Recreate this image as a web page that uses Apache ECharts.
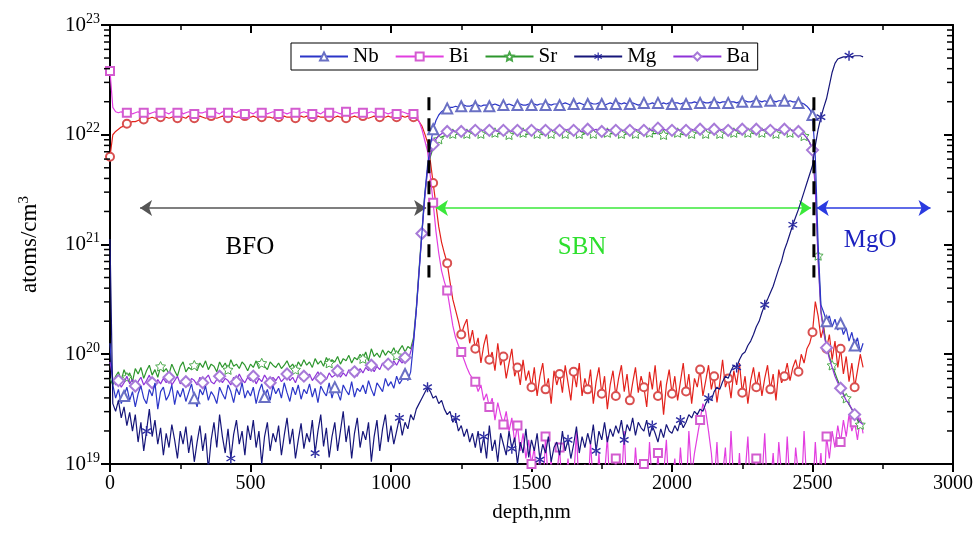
<!DOCTYPE html>
<html>
<head>
<meta charset="utf-8">
<script src="https://cdn.jsdelivr.net/npm/echarts@6/dist/echarts.min.js"></script>
<style>
  html, body { margin: 0; padding: 0; background: #ffffff; }
  #chart { width: 979px; height: 536px; }
</style>
</head>
<body>
<div id="chart"></div>
<script>
// SIMS depth profile: concentration (atoms/cm3) vs depth (nm).
// Profiles are sampled every 10 nm starting at 0 nm; values are log10(atoms/cm3).
const DEPTH_START = 0;
const DEPTH_STEP = 10;

const nbLog = [
  20.10, 19.72, 19.60, 19.68, 19.55, 19.62, 19.70, 19.58, 19.66, 19.52,
  19.64, 19.71, 19.60, 19.55, 19.68, 19.62, 19.74, 19.50, 19.66, 19.70,
  19.58, 19.63, 19.72, 19.54, 19.67, 19.61, 19.69, 19.57, 19.65, 19.73,
  19.60, 19.52, 19.68, 19.63, 19.71, 19.58, 19.66, 19.62, 19.55, 19.70,
  19.64, 19.59, 19.72, 19.66, 19.56, 19.69, 19.63, 19.74, 19.60, 19.67,
  19.62, 19.70, 19.55, 19.66, 19.73, 19.61, 19.68, 19.58, 19.71, 19.64,
  19.69, 19.60, 19.74, 19.65, 19.57, 19.70, 19.63, 19.72, 19.59, 19.68,
  19.64, 19.73, 19.61, 19.69, 19.56, 19.71, 19.66, 19.62, 19.74, 19.60,
  19.70, 19.65, 19.58, 19.72, 19.67, 19.63, 19.75, 19.61, 19.69, 19.66,
  19.72, 19.64, 19.76, 19.68, 19.62, 19.74, 19.70, 19.66, 19.78, 19.71,
  19.75, 19.69, 19.80, 19.73, 19.77, 19.82, 19.76, 19.84, 20.10, 20.40,
  20.75, 21.10, 21.45, 21.72, 21.90, 22.05, 22.13, 22.18, 22.21, 22.23,
  22.24, 22.25, 22.25, 22.26, 22.25, 22.26, 22.27, 22.26, 22.26, 22.27,
  22.26, 22.27, 22.26, 22.27, 22.27, 22.26, 22.27, 22.28, 22.27, 22.26,
  22.27, 22.27, 22.28, 22.27, 22.26, 22.27, 22.28, 22.27, 22.27, 22.28,
  22.27, 22.28, 22.27, 22.28, 22.28, 22.27, 22.28, 22.27, 22.28, 22.28,
  22.27, 22.28, 22.29, 22.28, 22.27, 22.28, 22.28, 22.29, 22.28, 22.27,
  22.28, 22.29, 22.28, 22.28, 22.29, 22.28, 22.27, 22.28, 22.29, 22.28,
  22.28, 22.29, 22.28, 22.29, 22.28, 22.28, 22.29, 22.28, 22.27, 22.28,
  22.29, 22.28, 22.28, 22.29, 22.28, 22.29, 22.28, 22.29, 22.28, 22.29,
  22.28, 22.29, 22.29, 22.28, 22.29, 22.28, 22.29, 22.29, 22.30, 22.29,
  22.29, 22.30, 22.29, 22.29, 22.30, 22.29, 22.30, 22.29, 22.30, 22.30,
  22.29, 22.30, 22.30, 22.29, 22.30, 22.30, 22.31, 22.30, 22.30, 22.31,
  22.30, 22.31, 22.30, 22.31, 22.30, 22.31, 22.31, 22.30, 22.31, 22.31,
  22.31, 22.30, 22.31, 22.30, 22.30, 22.29, 22.29, 22.28, 22.26, 22.23,
  22.18, 21.80, 21.00, 20.45, 20.38, 20.30, 20.35, 20.25, 20.32, 20.22,
  20.28, 20.18, 20.24, 20.12, 20.20, 20.08, 20.15, 20.02, 20.10
];

const biLog = [
  22.58, 22.25, 22.21, 22.20, 22.21, 22.19, 22.20, 22.21, 22.19, 22.20,
  22.21, 22.19, 22.20, 22.22, 22.19, 22.20, 22.21, 22.19, 22.20, 22.21,
  22.20, 22.19, 22.21, 22.20, 22.20, 22.22, 22.19, 22.20, 22.21, 22.20,
  22.19, 22.21, 22.20, 22.20, 22.21, 22.19, 22.20, 22.22, 22.20, 22.19,
  22.21, 22.20, 22.20, 22.19, 22.21, 22.20, 22.22, 22.20, 22.19, 22.21,
  22.20, 22.19, 22.21, 22.20, 22.20, 22.21, 22.19, 22.20, 22.21, 22.20,
  22.19, 22.21, 22.20, 22.19, 22.20, 22.21, 22.20, 22.19, 22.20, 22.21,
  22.20, 22.20, 22.19, 22.21, 22.20, 22.19, 22.21, 22.20, 22.20, 22.19,
  22.21, 22.20, 22.19, 22.20, 22.21, 22.20, 22.19, 22.20, 22.20, 22.21,
  22.20, 22.19, 22.20, 22.21, 22.20, 22.19, 22.20, 22.21, 22.20, 22.19,
  22.20, 22.21, 22.19, 22.20, 22.21, 22.20, 22.19, 22.20, 22.19, 22.17,
  22.12, 22.05, 21.95, 21.85, 21.62, 21.38, 21.12, 20.92, 20.76, 20.66,
  20.58, 20.42, 20.26, 20.15, 20.08, 20.02, 19.95, 19.88, 19.82, 19.78,
  19.75, 19.66, 19.72, 19.58, 19.64, 19.52, 19.60, 19.40, 19.56, 19.45,
  19.36, 19.48, 19.30, 19.42, 19.20, 19.35, 19.12, 19.28, 19.05, 19.22,
  19.00, 19.15, 18.80, 19.10, 18.70, 19.25, 18.80, 19.05, 18.70, 18.90,
  19.15, 18.70, 18.80, 19.05, 18.70, 18.85, 19.30, 18.70, 18.80, 19.00,
  18.70, 19.20, 18.80, 18.70, 19.10, 18.70, 18.90, 19.25, 18.70, 18.80,
  19.05, 18.70, 18.80, 19.30, 18.70, 18.90, 18.70, 19.15, 18.80, 18.70,
  19.00, 18.70, 19.20, 18.80, 18.70, 19.10, 18.70, 18.90, 19.22, 18.70,
  18.80, 19.05, 18.70, 19.15, 18.80, 18.70, 19.30, 18.90, 19.10, 19.25,
  19.40, 19.55, 19.48, 19.30, 19.10, 18.80, 19.20, 18.70, 18.90, 19.15,
  18.70, 19.30, 18.80, 18.70, 19.10, 18.70, 18.90, 19.25, 18.70, 18.80,
  19.05, 18.70, 18.85, 19.28, 18.70, 18.80, 19.10, 18.70, 19.20, 18.90,
  18.70, 19.25, 18.80, 18.70, 19.15, 18.90, 18.70, 19.30, 18.80, 19.00,
  18.70, 19.20, 18.80, 19.10, 18.70, 19.25, 19.05, 19.30, 19.15, 19.35,
  19.20, 19.40, 19.25, 19.45, 19.30, 19.38, 19.22, 19.42, 19.28
];

const srLog = [
  19.78, 19.72, 19.80, 19.84, 19.76, 19.86, 19.79, 19.83, 19.75, 19.87,
  19.82, 19.88, 19.78, 19.85, 19.90, 19.81, 19.86, 19.79, 19.89, 19.84,
  19.87, 19.82, 19.91, 19.85, 19.80, 19.89, 19.93, 19.84, 19.88, 19.86,
  19.90, 19.85, 19.92, 19.88, 19.94, 19.86, 19.91, 19.89, 19.84, 19.93,
  19.88, 19.92, 19.86, 19.95, 19.89, 19.91, 19.87, 19.93, 19.90, 19.85,
  19.91, 19.88, 19.94, 19.87, 19.92, 19.89, 19.86, 19.93, 19.90, 19.88,
  19.92, 19.87, 19.90, 19.94, 19.88, 19.91, 19.86, 19.93, 19.89, 19.95,
  19.90, 19.93, 19.88, 19.96, 19.91, 19.94, 19.89, 19.97, 19.92, 19.95,
  19.93, 19.98, 19.91, 19.96, 19.94, 19.99, 19.92, 19.97, 19.95, 20.00,
  19.96, 20.02, 19.94, 20.05, 19.98, 20.01, 19.97, 20.04, 19.99, 20.03,
  20.01, 20.06, 19.99, 20.04, 20.08, 20.02, 20.07, 20.05, 20.15, 20.42,
  20.78, 21.12, 21.45, 21.68, 21.80, 21.88, 21.93, 21.96, 21.98, 21.99,
  22.00, 22.00, 22.01, 22.00, 22.01, 22.01, 22.00, 22.01, 22.02, 22.01,
  22.00, 22.01, 22.01, 22.02, 22.01, 22.00, 22.01, 22.02, 22.01, 22.01,
  22.02, 22.01, 22.00, 22.01, 22.02, 22.01, 22.01, 22.02, 22.00, 22.01,
  22.01, 22.02, 22.01, 22.01, 22.00, 22.01, 22.02, 22.01, 22.01, 22.02,
  22.01, 22.00, 22.01, 22.02, 22.01, 22.01, 22.02, 22.01, 22.00, 22.01,
  22.02, 22.01, 22.01, 22.02, 22.01, 22.00, 22.01, 22.02, 22.01, 22.01,
  22.01, 22.02, 22.01, 22.00, 22.01, 22.02, 22.01, 22.01, 22.02, 22.01,
  22.00, 22.01, 22.02, 22.01, 22.01, 22.02, 22.01, 22.00, 22.01, 22.02,
  22.01, 22.01, 22.02, 22.01, 22.00, 22.01, 22.02, 22.01, 22.01, 22.02,
  22.01, 22.02, 22.01, 22.01, 22.02, 22.01, 22.02, 22.01, 22.02, 22.01,
  22.02, 22.01, 22.02, 22.02, 22.01, 22.02, 22.01, 22.02, 22.02, 22.01,
  22.02, 22.01, 22.02, 22.02, 22.01, 22.02, 22.02, 22.01, 22.02, 22.02,
  22.02, 22.01, 22.02, 22.02, 22.01, 22.01, 22.00, 21.99, 21.97, 21.93,
  21.85, 21.55, 20.90, 20.40, 20.22, 20.08, 19.98, 19.90, 19.83, 19.76,
  19.70, 19.64, 19.60, 19.54, 19.50, 19.45, 19.40, 19.36, 19.33
];

const mgLog = [
  21.05, 19.55, 19.48, 19.58, 19.42, 19.52, 19.35, 19.47, 19.30, 19.45,
  19.20, 19.38, 19.12, 19.30, 19.50, 19.25, 19.40, 19.18, 19.33, 19.08,
  19.28, 19.15, 19.36, 19.22, 19.05, 19.30, 19.18, 19.34, 19.10, 19.26,
  19.02, 19.20, 19.35, 19.12, 19.28, 18.95, 19.22, 19.38, 19.15, 19.45,
  19.25, 19.10, 19.32, 19.05, 19.27, 19.40, 19.18, 19.30, 19.08, 19.35,
  19.22, 19.40, 19.15, 19.30, 19.00, 19.25, 19.38, 19.12, 19.28, 19.20,
  19.35, 19.08, 19.26, 19.42, 19.18, 19.32, 19.05, 19.22, 19.37, 19.14,
  19.28, 19.20, 19.40, 19.10, 19.30, 19.45, 19.16, 19.33, 19.06, 19.25,
  19.38, 19.12, 19.30, 19.48, 19.20, 19.35, 19.05, 19.28, 19.42, 19.15,
  19.30, 19.22, 19.38, 19.02, 19.25, 19.40, 19.12, 19.32, 19.45, 19.20,
  19.35, 19.18, 19.30, 19.42, 19.26, 19.38, 19.32, 19.45, 19.40, 19.50,
  19.55, 19.60, 19.65, 19.70, 19.66, 19.60, 19.62, 19.55, 19.58, 19.50,
  19.45, 19.48, 19.38, 19.42, 19.30, 19.35, 19.25, 19.32, 19.20, 19.28,
  19.15, 19.30, 19.10, 19.25, 19.05, 19.35, 19.12, 19.22, 19.02, 19.28,
  19.18, 19.08, 19.30, 19.14, 19.24, 19.00, 19.20, 19.10, 19.32, 19.06,
  19.22, 19.12, 19.28, 19.04, 19.18, 19.10, 19.25, 19.02, 19.15, 19.20,
  19.08, 19.30, 19.12, 19.22, 19.05, 19.18, 19.34, 19.10, 19.25, 19.15,
  19.28, 19.18, 19.36, 19.12, 19.30, 19.22, 19.38, 19.20, 19.32, 19.25,
  19.35, 19.28, 19.40, 19.22, 19.36, 19.30, 19.42, 19.26, 19.38, 19.33,
  19.30, 19.40, 19.25, 19.35, 19.28, 19.20, 19.32, 19.24, 19.36, 19.30,
  19.28, 19.35, 19.30, 19.40, 19.33, 19.38, 19.45, 19.42, 19.48, 19.45,
  19.50, 19.48, 19.55, 19.60, 19.58, 19.66, 19.70, 19.68, 19.75, 19.80,
  19.78, 19.85, 19.90, 19.88, 19.95, 20.00, 20.02, 20.08, 20.12, 20.18,
  20.25, 20.30, 20.38, 20.45, 20.50, 20.56, 20.62, 20.70, 20.78, 20.85,
  20.95, 21.02, 21.10, 21.18, 21.25, 21.32, 21.40, 21.48, 21.56, 21.64,
  21.72, 21.90, 22.05, 22.16, 22.25, 22.33, 22.45, 22.57, 22.65, 22.69,
  22.70, 22.71, 22.71, 22.72, 22.71, 22.72, 22.72, 22.72, 22.71
];

const baLog = [
  19.93, 19.78, 19.72, 19.76, 19.70, 19.74, 19.80, 19.73, 19.77, 19.71,
  19.75, 19.79, 19.72, 19.76, 19.81, 19.74, 19.70, 19.77, 19.73, 19.78,
  19.74, 19.79, 19.72, 19.76, 19.80, 19.73, 19.77, 19.75, 19.71, 19.78,
  19.76, 19.72, 19.79, 19.74, 19.78, 19.81, 19.75, 19.73, 19.77, 19.80,
  19.74, 19.78, 19.76, 19.72, 19.79, 19.75, 19.82, 19.77, 19.74, 19.79,
  19.76, 19.80, 19.73, 19.78, 19.75, 19.81, 19.77, 19.74, 19.79, 19.76,
  19.80, 19.75, 19.78, 19.82, 19.76, 19.79, 19.74, 19.81, 19.77, 19.80,
  19.78, 19.82, 19.76, 19.80, 19.84, 19.78, 19.81, 19.77, 19.83, 19.79,
  19.81, 19.85, 19.79, 19.83, 19.80, 19.86, 19.82, 19.84, 19.80, 19.87,
  19.83, 19.88, 19.85, 19.90, 19.84, 19.89, 19.86, 19.92, 19.88, 19.91,
  19.89, 19.94, 19.90, 19.95, 19.92, 19.97, 19.94, 20.02, 20.12, 20.40,
  20.76, 21.10, 21.42, 21.68, 21.82, 21.91, 21.96, 21.99, 22.01, 22.02,
  22.03, 22.03, 22.04, 22.03, 22.04, 22.03, 22.04, 22.04, 22.03, 22.04,
  22.04, 22.03, 22.04, 22.04, 22.03, 22.04, 22.05, 22.04, 22.03, 22.04,
  22.04, 22.05, 22.04, 22.03, 22.04, 22.04, 22.05, 22.04, 22.04, 22.03,
  22.04, 22.04, 22.05, 22.04, 22.03, 22.04, 22.05, 22.04, 22.04, 22.05,
  22.04, 22.03, 22.04, 22.05, 22.04, 22.04, 22.05, 22.04, 22.03, 22.04,
  22.05, 22.04, 22.04, 22.05, 22.04, 22.03, 22.04, 22.05, 22.04, 22.04,
  22.04, 22.05, 22.04, 22.04, 22.05, 22.04, 22.04, 22.05, 22.04, 22.05,
  22.04, 22.04, 22.05, 22.04, 22.05, 22.06, 22.04, 22.05, 22.04, 22.05,
  22.04, 22.05, 22.05, 22.04, 22.05, 22.04, 22.05, 22.05, 22.04, 22.05,
  22.05, 22.04, 22.05, 22.05, 22.04, 22.05, 22.05, 22.04, 22.05, 22.05,
  22.04, 22.05, 22.05, 22.04, 22.05, 22.05, 22.04, 22.05, 22.05, 22.04,
  22.05, 22.05, 22.04, 22.05, 22.05, 22.04, 22.05, 22.05, 22.04, 22.05,
  22.05, 22.04, 22.05, 22.04, 22.03, 22.03, 22.02, 22.00, 21.97, 21.93,
  21.86, 21.50, 20.85, 20.38, 20.20, 20.06, 19.96, 19.88, 19.80, 19.74,
  19.69, 19.63, 19.58, 19.55, 19.50, 19.45, 19.42, 19.38, 19.36
];

// Fe profile (drawn, not listed in the legend)
const feLog = [
  21.80, 22.00, 22.03, 22.05, 22.07, 22.08, 22.10, 22.11, 22.12, 22.12,
  22.13, 22.14, 22.14, 22.15, 22.15, 22.16, 22.15, 22.16, 22.16, 22.15,
  22.16, 22.15, 22.16, 22.17, 22.15, 22.16, 22.16, 22.15, 22.17, 22.16,
  22.15, 22.16, 22.17, 22.16, 22.15, 22.16, 22.17, 22.16, 22.15, 22.16,
  22.17, 22.16, 22.15, 22.16, 22.17, 22.16, 22.16, 22.15, 22.17, 22.16,
  22.16, 22.17, 22.16, 22.15, 22.16, 22.17, 22.16, 22.16, 22.15, 22.17,
  22.16, 22.15, 22.17, 22.16, 22.16, 22.17, 22.15, 22.16, 22.17, 22.16,
  22.17, 22.16, 22.16, 22.15, 22.17, 22.16, 22.16, 22.17, 22.16, 22.15,
  22.16, 22.17, 22.16, 22.16, 22.15, 22.17, 22.16, 22.17, 22.16, 22.16,
  22.17, 22.16, 22.15, 22.16, 22.17, 22.16, 22.16, 22.17, 22.16, 22.17,
  22.16, 22.17, 22.16, 22.16, 22.17, 22.16, 22.17, 22.16, 22.16, 22.15,
  22.12, 22.08, 22.01, 21.93, 21.76, 21.56, 21.36, 21.16, 21.02, 20.92,
  20.83, 20.66, 20.50, 20.40, 20.30, 20.18, 20.26, 20.32, 20.10, 20.22,
  20.05, 20.15, 19.92, 20.08, 20.18, 19.95, 20.02, 19.85, 20.10, 19.90,
  19.98, 19.78, 19.92, 20.05, 19.80, 19.88, 19.72, 19.95, 19.76, 19.85,
  19.70, 19.88, 19.62, 19.80, 19.92, 19.68, 19.78, 19.55, 19.85, 19.72,
  19.82, 19.65, 19.90, 19.74, 19.58, 19.84, 19.70, 19.92, 19.62, 19.78,
  19.68, 19.86, 19.55, 19.75, 19.88, 19.64, 19.80, 19.50, 19.72, 19.85,
  19.62, 19.78, 19.90, 19.66, 19.82, 19.58, 19.74, 19.88, 19.65, 19.80,
  19.70, 19.52, 19.84, 19.68, 19.90, 19.62, 19.76, 19.45, 19.72, 19.86,
  19.64, 19.80, 19.58, 19.75, 19.92, 19.66, 19.82, 19.55, 19.78, 19.70,
  19.86, 19.62, 19.76, 19.90, 19.68, 19.80, 19.56, 19.74, 19.95, 19.70,
  19.78, 19.60, 19.85, 19.72, 19.92, 19.65, 19.80, 19.55, 19.76, 19.88,
  19.70, 19.84, 19.62, 19.78, 19.90, 19.68, 19.82, 19.58, 19.86, 19.74,
  19.80, 19.92, 19.76, 19.88, 19.95, 19.84, 20.00, 19.92, 20.05, 20.10,
  20.20, 20.48, 20.35, 20.15, 20.25, 20.05, 20.18, 19.95, 20.12, 19.88,
  20.05, 19.82, 19.98, 19.75, 19.92, 19.70, 19.85, 20.00, 19.88
];

// Layer annotations
const legendNames = ['Nb', 'Bi', 'Sr', 'Mg', 'Ba'];
const interfaceDepth = [1135, 2505];            // nm
const interfaceSpan = [2.2e22, 5.0e20];         // top / bottom of the boundary markers
const regionNames = ['BFO', 'SBN', 'MgO'];
const regionLabelDepth = [498, 1680, 2705];
const regionLabelLevel = [9.5e20, 9.5e20, 1.1e21];
const regionArrowSpan = [[107, 1125], [1160, 2495], [2515, 2920]];
const regionArrowLevel = 2.15e21;

const SERIF = '"Liberation Serif", "Times New Roman", serif';

// decide which samples carry a marker
function markEvery(stepA, phaseA, stepB, phaseB, split) {
  return (i, d) => (d < split ? i % stepA === phaseA : i % stepB === phaseB);
}

function toPoints(logs, marker) {
  return logs.map((v, i) => {
    const d = DEPTH_START + i * DEPTH_STEP;
    const item = { value: [d, Math.pow(10, v)] };
    if (!marker(i, d)) item.symbol = 'none';
    return item;
  });
}

const STAR = 'path://M0,-10L2.9,-4L9.5,-3.1L4.7,1.5L5.9,8.1L0,5L-5.9,8.1L-4.7,1.5L-9.5,-3.1L-2.9,-4Z';
const ASTERISK = 'path://M-0.7,-5L0.7,-5L0.7,5L-0.7,5Z M3.98,3.11L-4.68,-1.89L-3.98,-3.11L4.68,1.89Z M-3.98,3.11L4.68,-1.89L3.98,-3.11L-4.68,1.89Z';

function profile(name, logs, opt) {
  return {
    name: name,
    type: 'line',
    data: toPoints(logs, opt.marker),
    symbol: opt.symbol,
    symbolSize: opt.size,
    symbolKeepAspect: true,
    showSymbol: true,
    lineStyle: { color: opt.color, width: 1.2 },
    itemStyle: opt.itemStyle,
    emphasis: { disabled: true },
    clip: true,
    z: opt.z
  };
}

const regionColors = ['#000000', '#2ee02e', '#1c22c0'];
const arrowHeadColors = ['#000000', '#2ee02e', '#2230d8'];
const arrowLineColors = ['#555555', '#3ae83a', '#2a3ae0'];

const minorTickValues = [];
for (let e = 19; e < 23; e++) {
  for (let k = 2; k <= 9; k++) minorTickValues.push([0, k * Math.pow(10, e)]);
}

const chart = echarts.init(document.getElementById('chart'), null, { renderer: 'canvas' });

const series = [
  profile('Fe', feLog, {
    color: '#e3221c', symbol: 'emptyCircle', size: 8,
    itemStyle: { color: '#d95050', borderWidth: 1 },
    marker: markEvery(6, 0, 5, 0, 1130), z: 3
  }),
  profile('Bi', biLog, {
    color: '#e23ee0', symbol: 'emptyRect', size: 8,
    itemStyle: { color: '#d35cd0', borderWidth: 1 },
    marker: markEvery(6, 0, 5, 0, 1130), z: 4
  }),
  profile('Sr', srLog, {
    color: '#2c962c', symbol: STAR, size: 10,
    itemStyle: { color: '#ffffff', borderColor: '#4aa84a', borderWidth: 1 },
    marker: markEvery(12, 6, 5, 2, 1130), z: 5
  }),
  profile('Ba', baLog, {
    color: '#8e32d8', symbol: 'emptyDiamond', size: 11,
    itemStyle: { color: '#a77ad8', borderWidth: 1 },
    marker: markEvery(6, 3, 5, 0, 1130), z: 6
  }),
  profile('Nb', nbLog, {
    color: '#2b35c8', symbol: 'emptyTriangle', size: 10,
    itemStyle: { color: '#6a70c4', borderWidth: 1 },
    marker: markEvery(25, 5, 5, 0, 1130), z: 7
  }),
  profile('Mg', mgLog, {
    color: '#16167a', symbol: ASTERISK, size: 10,
    itemStyle: { color: '#2a2aa0' },
    marker: markEvery(30, 13, 10, 3, 1100), z: 8
  })
];

// layer boundaries (dashed verticals)
interfaceDepth.forEach((d) => {
  series.push({
    type: 'line', silent: true, symbol: 'none', z: 9,
    data: [[d, interfaceSpan[0]], [d, interfaceSpan[1]]],
    lineStyle: { color: '#000', width: 3, type: [13, 8] }
  });
});

// layer extent arrows
series.push({
  type: 'line', silent: true, data: [], z: 10,
  markLine: {
    silent: true, animation: false,
    symbol: ['arrow', 'arrow'], symbolSize: 12,
    label: { show: false },
    data: regionArrowSpan.map((s, i) => [
      { coord: [s[0], regionArrowLevel], lineStyle: { color: arrowLineColors[i], width: 1.5, type: 'solid' }, itemStyle: { color: arrowHeadColors[i] } },
      { coord: [s[1], regionArrowLevel] }
    ])
  }
});

// layer names
series.push({
  type: 'scatter', silent: true, symbolSize: 0, z: 11,
  data: regionNames.map((n, i) => ({
    value: [regionLabelDepth[i], regionLabelLevel[i]],
    label: { show: true, formatter: n, color: regionColors[i], textBorderWidth: 0, opacity: 1 }
  })),
  label: { position: 'inside', fontFamily: SERIF, fontSize: 25 }
});

// logarithmic minor ticks on the left (outward) and right (inward) frames
series.push({
  type: 'custom', silent: true, clip: false, z: 12,
  data: minorTickValues,
  renderItem: function (params, api) {
    const v = api.value(1);
    const pl = api.coord([0, v]);
    const pr = api.coord([3000, v]);
    return {
      type: 'group',
      children: [
        { type: 'line', shape: { x1: pl[0] - 6, y1: pl[1], x2: pl[0], y2: pl[1] }, style: { stroke: '#000', lineWidth: 1.5 } },
        { type: 'line', shape: { x1: pr[0] - 6, y1: pr[1], x2: pr[0], y2: pr[1] }, style: { stroke: '#000', lineWidth: 1.5 } }
      ]
    };
  }
});

const axisBase = {
  axisLine: { show: true, onZero: false, lineStyle: { color: '#000', width: 2 } },
  splitLine: { show: false }
};

chart.setOption({
  animation: false,
  backgroundColor: '#ffffff',
  grid: { left: 110, right: 26, top: 25, bottom: 72, containLabel: false },
  legend: {
    data: legendNames,
    left: 291, top: 43,
    orient: 'horizontal',
    itemWidth: 48, itemHeight: 10, itemGap: 16,
    padding: [3, 8, 3, 8],
    borderColor: '#000', borderWidth: 1,
    textStyle: { fontFamily: SERIF, fontSize: 21, color: '#000' }
  },
  xAxis: [
    Object.assign({}, axisBase, {
      type: 'value', min: 0, max: 3000, interval: 500, position: 'bottom',
      axisTick: { show: true, inside: false, length: 8, lineStyle: { color: '#000', width: 2 } },
      minorTick: { show: true, splitNumber: 2, length: 5, lineStyle: { color: '#000', width: 1.5 } },
      axisLabel: { fontFamily: SERIF, fontSize: 20, color: '#000', margin: 10, formatter: (v) => String(v) },
      name: 'depth,nm', nameLocation: 'middle', nameGap: 38,
      nameTextStyle: { fontFamily: SERIF, fontSize: 21, color: '#000' }
    }),
    Object.assign({}, axisBase, {
      type: 'value', min: 0, max: 3000, interval: 500, position: 'top',
      axisTick: { show: true, inside: true, length: 8, lineStyle: { color: '#000', width: 2 } },
      minorTick: { show: true, splitNumber: 2, length: 5, lineStyle: { color: '#000', width: 1.5 } },
      axisLabel: { show: false }
    })
  ],
  yAxis: [
    Object.assign({}, axisBase, {
      type: 'log', logBase: 10, min: 1e19, max: 1e23, position: 'left',
      axisTick: { show: true, inside: false, length: 9, lineStyle: { color: '#000', width: 2 } },
      axisLabel: {
        margin: 10,
        formatter: (v) => '{b|10}{s|' + Math.round(Math.log10(v)) + '}',
        rich: {
          b: { fontFamily: SERIF, fontSize: 21, color: '#000', lineHeight: 26 },
          s: { fontFamily: SERIF, fontSize: 14, color: '#000', verticalAlign: 'top', lineHeight: 26, padding: [0, 0, 8, 0] }
        }
      },
      name: 'atoms/cm{s|3}', nameLocation: 'middle', nameGap: 68, nameRotate: 90,
      nameTextStyle: {
        fontFamily: SERIF, fontSize: 23, color: '#000',
        rich: { s: { fontFamily: SERIF, fontSize: 15, color: '#000', verticalAlign: 'top', padding: [0, 0, 10, 0] } }
      }
    }),
    Object.assign({}, axisBase, {
      type: 'log', logBase: 10, min: 1e19, max: 1e23, position: 'right',
      axisTick: { show: true, inside: true, length: 9, lineStyle: { color: '#000', width: 2 } },
      axisLabel: { show: false }
    })
  ],
  series: series
});
</script>
</body>
</html>
